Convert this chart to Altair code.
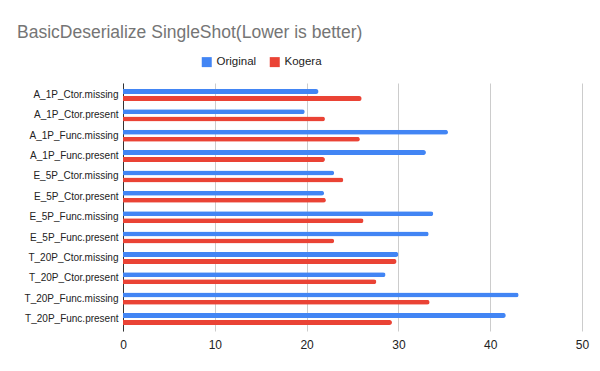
import altair as alt
import pandas as pd

categories = [
    "A_1P_Ctor.missing", "A_1P_Ctor.present", "A_1P_Func.missing", "A_1P_Func.present",
    "E_5P_Ctor.missing", "E_5P_Ctor.present", "E_5P_Func.missing", "E_5P_Func.present",
    "T_20P_Ctor.missing", "T_20P_Ctor.present", "T_20P_Func.missing", "T_20P_Func.present",
]
original = [21.3, 19.8, 35.4, 33.0, 23.0, 21.9, 33.8, 33.3, 30.0, 28.6, 43.1, 41.7]
kogera = [26.0, 22.0, 25.8, 22.0, 24.0, 22.1, 26.2, 23.0, 29.8, 27.6, 33.4, 29.3]
series = ["Original", "Kogera"]
colors = ["#4285F4", "#EA4335"]
x_ticks = [0, 10, 20, 30, 40, 50]

rows = []
for c, o, k in zip(categories, original, kogera):
    rows.append({"test": c, "series": "Original", "value": o})
    rows.append({"test": c, "series": "Kogera", "value": k})
df = pd.DataFrame(rows)

FONT = "Liberation Sans"

chart = alt.Chart(df).mark_bar(size=5, cornerRadiusEnd=2.5).encode(
    y=alt.Y("test:N", sort=categories, title=None,
            scale=alt.Scale(paddingInner=0, paddingOuter=0.09),
            axis=alt.Axis(domain=True, domainColor="#333333", ticks=False, labelPadding=5,
                          labelFontSize=10, labelColor="#222222", labelFont=FONT, grid=False)),
    yOffset=alt.YOffset("series:N", sort=series,
                        scale=alt.Scale(paddingInner=0, paddingOuter=0.45)),
    x=alt.X("value:Q", title=None,
            scale=alt.Scale(domain=[0, 50], nice=False),
            axis=alt.Axis(values=x_ticks, domain=False, ticks=False, labelPadding=8,
                          labelFontSize=12, labelColor="#222222", labelFont=FONT,
                          gridColor="#cccccc", labelFlush=False)),
    color=alt.Color("series:N", sort=series,
                    scale=alt.Scale(domain=series, range=colors),
                    legend=alt.Legend(title=None, orient="none", direction="horizontal",
                                      legendX=78, legendY=-27, symbolType="square",
                                      symbolSize=100, symbolStrokeWidth=0,
                                      labelFontSize=11.5, labelColor="#222222", labelFont=FONT,
                                      columnPadding=12)),
).properties(
    width=459,
    height=248,
    title=alt.TitleParams("BasicDeserialize SingleShot(Lower is better)", anchor="start",
                          frame="group", dx=-106, offset=15, fontSize=17.5, fontWeight="normal",
                          color="#757575", font=FONT),
    autosize=alt.AutoSizeParams(type="none"),
    padding={"left": 115, "top": 75, "right": 10, "bottom": 30},
).configure_view(stroke=None)

chart.save("out.html", embed_options={"renderer": "svg", "actions": False})
